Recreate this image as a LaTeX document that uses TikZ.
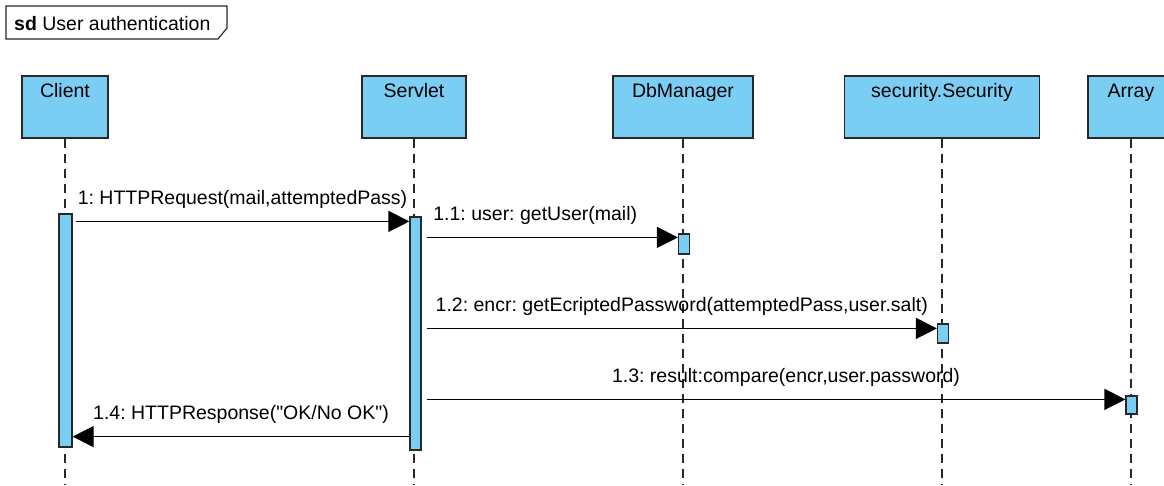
\documentclass[tikz,border=0pt]{standalone}
\usepackage{fontspec}
\setmainfont{Liberation Sans}
\usepackage{tikz}
\usetikzlibrary{arrows.meta,calc,positioning}
\definecolor{objblue}{RGB}{122,206,244}
\definecolor{edgegray}{RGB}{40,40,40}
\frenchspacing

\begin{document}
\begin{tikzpicture}[x=1pt,y=1pt,
  font=\fontsize{19.5}{23}\selectfont,
  objbox/.style={draw=edgegray, line width=1.4pt, fill=objblue, minimum height=62pt,
    inner xsep=2pt, inner ysep=3pt, text height=18pt, text depth=38pt},
  actbar/.style={draw=edgegray, line width=1.2pt, fill=objblue, minimum width=11pt, inner sep=0pt},
  lifeline/.style={draw=edgegray, line width=1.2pt, dash pattern=on 9pt off 6pt},
  msg/.style={draw=black, line width=1.2pt, -{Triangle[length=21pt,width=21pt]}},
  msglbl/.style={anchor=base, yshift=17pt, inner sep=0pt}]
\useasboundingbox (0,0) rectangle (1164,-485);

% Khung
\draw[draw=edgegray, line width=1.2pt] (6,-6) -- (227,-6) -- (227,-28) -- (218,-39) -- (6,-39) -- cycle;
\node[anchor=base west, inner sep=0pt] (sdtitle) at (14,-30) {\textbf{sd} User authentication};

% Đối tượng
\node[objbox, minimum width=86pt] (client) at (65,-107) {Client};
\node[objbox, minimum width=104pt] (servlet) at (414,-107) {Servlet};
\node[objbox, minimum width=140pt] (db) at (683,-107) {DbManager};
\node[objbox, minimum width=195pt] (sec) at (942,-107) {security.Security};
\node[objbox, minimum width=86pt] (arr) at (1131,-107) {Array};

% Đường đời
\coordinate (bottom) at (0,-485);
\foreach \o in {client,servlet,db,sec,arr}
  \draw[lifeline] (\o.south) -- (\o.south |- bottom);

% Thanh kích hoạt
\node[actbar, minimum width=13pt, minimum height=233pt] (clientbar) at (65.5,-330.5) {};
\node[actbar, minimum height=233pt] (servletbar) at (415.5,-333.5) {};
\node[actbar, minimum height=20pt] (dbbar) at (684,-244) {};
\node[actbar, minimum height=19pt] (secbar) at (943,-333.5) {};
\node[actbar, minimum height=18pt] (arrbar) at (1131.5,-405) {};

% Thông điệp
\draw[msg] ($(clientbar.north east)+(3,-8)$) -- ($(servletbar.north west)+(0,-5)$)
  node[msglbl, midway] (m1) {1: HTTPRequest(mail,attemptedPass)};
\draw[msg] ($(servletbar.east |- dbbar.north)+(5,-4)$) -- ($(dbbar.north west)+(0,-4)$)
  node[msglbl, midway, xshift=-17pt] (m11) {1.1: user: getUser(mail)};
\draw[msg] ($(servletbar.east |- secbar.north)+(5,-5)$) -- ($(secbar.north west)+(0,-5)$)
  node[msglbl, midway] (m12) {1.2: encr: getEcriptedPassword(attemptedPass,user.salt)};
\draw[msg] ($(servletbar.east |- arrbar.north)+(5,-4)$) -- ($(arrbar.north west)+(0,-4)$)
  node[msglbl, midway, xshift=10pt] (m13) {1.3: result:compare(encr,user.password)};
\draw[msg] ($(servletbar.south west)+(0,14)$) -- ($(clientbar.south east)+(0,11)$)
  node[msglbl, midway] (m14) {1.4: HTTPResponse(\textquotedbl OK/No OK\textquotedbl)};
\end{tikzpicture}
\end{document}
